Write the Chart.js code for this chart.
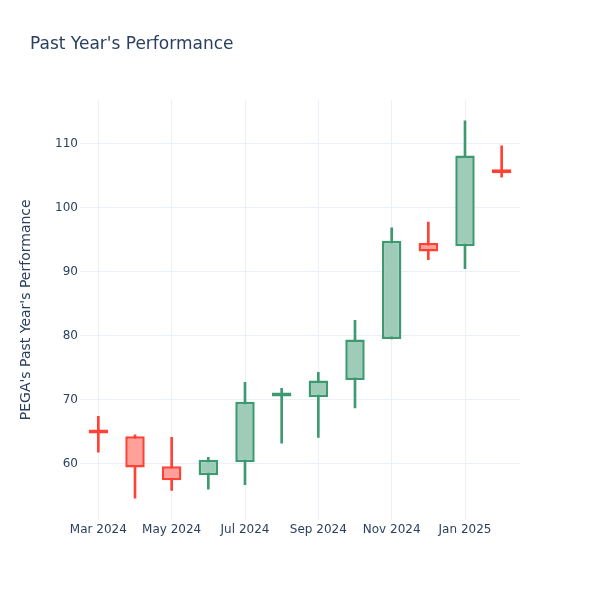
<!DOCTYPE html>
<html>
<head>
<meta charset="utf-8">
<script src="https://cdn.jsdelivr.net/npm/chart.js@4.4.1/dist/chart.umd.min.js"></script>
<style>
    body { margin: 0; background: #fff; }
</style>
</head>
<body>
<canvas id="chart_candles" width="600" height="600"></canvas>
<script>
const months = ['Mar 2024', 'Apr 2024', 'May 2024', 'Jun 2024', 'Jul 2024', 'Aug 2024',
    'Sep 2024', 'Oct 2024', 'Nov 2024', 'Dec 2024', 'Jan 2025', 'Feb 2025'];
const openValues = [65.0, 64.3, 59.6, 58.2, 60.2, 70.5, 70.4, 73.1, 79.5, 94.5, 94.0, 105.7];
const closeValues = [64.7, 59.4, 57.4, 60.6, 69.7, 70.9, 73.0, 79.4, 94.85, 93.2, 108.2, 105.4];
const highValues = [67.4, 64.5, 64.1, 61.0, 72.7, 71.8, 74.3, 82.4, 96.9, 97.8, 113.6, 109.7];
const lowValues = [61.8, 54.6, 55.8, 56.0, 56.7, 63.2, 64.1, 68.7, 79.5, 91.9, 90.5, 104.8];

const up = { line: '#3D9970', fill: 'rgb(158,204,184)' };
const down = { line: '#FF4136', fill: 'rgb(255,160,155)' };
const isUp = openValues.map((o, i) => closeValues[i] >= o);

const font = "'DejaVu Sans', sans-serif";
const textColor = '#2a3f5f';
const gridColor = '#ebf0f8';

// title drawn at a fixed spot like the original
const titlePlugin = {
    id: 'fixedTitle',
    afterDraw(chart) {
        const ctx = chart.ctx;
        ctx.save();
        ctx.font = '17px ' + font;
        ctx.fillStyle = textColor;
        ctx.textBaseline = 'middle';
        ctx.fillText("Past Year's Performance", 30, 45);
        ctx.restore();
    }
};

new Chart(document.getElementById('chart_candles'), {
    type: 'bar',
    data: {
        labels: months,
        datasets: [{
            label: 'body',
            data: openValues.map((o, i) => [o, closeValues[i]]),
            backgroundColor: isUp.map(u => u ? up.fill : down.fill),
            borderColor: isUp.map(u => u ? up.line : down.line),
            borderWidth: 2.5,
            borderSkipped: false,
            grouped: false,
            minBarLength: 4,
            barPercentage: 0.53,
            categoryPercentage: 1
        }, {
            label: 'wick',
            data: lowValues.map((l, i) => [l, highValues[i]]),
            backgroundColor: isUp.map(u => u ? up.line : down.line),
            borderWidth: 0,
            grouped: false,
            barThickness: 2
        }]
    },
    plugins: [titlePlugin],
    options: {
        responsive: false,
        animation: false,
        layout: {
            padding: { top: 100, left: 16, right: 80, bottom: 60 }
        },
        plugins: {
            legend: { display: false },
            tooltip: { enabled: false }
        },
        scales: {
            x: {
                offset: true,
                border: { display: false },
                grid: {
                    offset: false,
                    drawTicks: false,
                    color: (context) => context.index % 2 === 0 ? gridColor : 'rgba(0,0,0,0)'
                },
                ticks: {
                    autoSkip: false,
                    maxRotation: 0,
                    padding: 3,
                    color: textColor,
                    font: { family: font, size: 12 },
                    callback: function(value, index) {
                        return index % 2 === 0 ? this.getLabelForValue(value) : '';
                    }
                }
            },
            y: {
                min: 51.25,
                max: 116.875,
                border: { display: false },
                grid: { color: gridColor, drawTicks: false },
                ticks: {
                    stepSize: 10,
                    includeBounds: false,
                    padding: 2,
                    color: textColor,
                    font: { family: font, size: 12 }
                },
                title: {
                    display: true,
                    text: "PEGA's Past Year's Performance",
                    color: textColor,
                    font: { family: font, size: 14 },
                    padding: { top: 2, bottom: 0 }
                },
                afterFit: (scale) => { scale.width = 64; }
            }
        }
    }
});
</script>
</body>
</html>
